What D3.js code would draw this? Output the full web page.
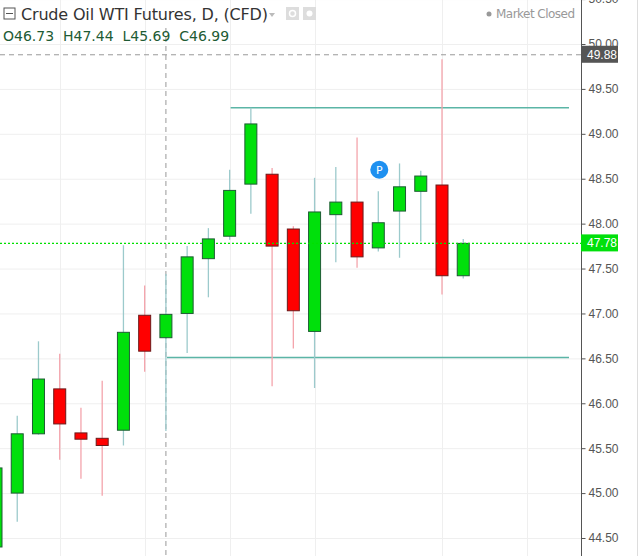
<!DOCTYPE html>
<html><head><meta charset="utf-8">
<script src="https://cdn.jsdelivr.net/npm/d3@7"></script>
<style>body{margin:0;background:#fff;}svg{display:block;font-family:"DejaVu Sans",Arial,sans-serif;}</style>
</head><body><svg id="c" width="639" height="556"></svg>
<script>
const openV  = [44.40,45.00,45.66,46.16,45.67,45.61,45.70,46.98,46.73,47.00,47.61,47.86,48.44,48.55,47.94,46.80,48.10,48.24,47.73,48.14,48.36,48.43,47.42];
const highV  = [45.30,45.86,46.69,46.55,45.95,46.25,47.76,47.31,47.44,47.75,47.95,48.60,49.29,48.62,47.97,48.51,48.63,48.96,48.36,48.67,48.59,49.83,47.83];
const lowV   = [44.20,44.68,45.65,45.37,45.16,44.97,45.53,46.35,45.69,46.56,47.18,47.82,48.11,46.19,46.61,46.17,47.57,47.51,47.69,47.62,47.80,47.21,47.39];
const closeV = [45.28,45.66,46.27,45.77,45.60,45.53,46.79,46.58,46.99,47.63,47.83,48.37,49.11,47.75,47.03,48.13,48.24,47.63,48.01,48.41,48.53,47.42,47.78];
const priceTicks = [44.5,45,45.5,46,46.5,47,47.5,48,48.5,49,49.5,50,50.5];
const gridIdx = [3,7,11,15,21,25];
const levels = [{p:49.29,from:11},{p:46.51,from:8}];
const lastPrice = 47.78, crossPrice = 49.88, crossIdx = 8, pIdx = 18, pPrice = 48.6;

const svg = d3.select("#c");
const y = d3.scaleLinear().domain([44.5,50]).range([538,44]);
const x = d3.scaleLinear().domain([0,26]).range([-4,548.2]);
const axisX = 581, bw = 12;

const g = svg.append("g");
g.selectAll(".hg").data(priceTicks).join("line").attr("x1",0).attr("x2",axisX)
 .attr("y1",d=>y(d)+.5).attr("y2",d=>y(d)+.5).attr("stroke","#efefef");
g.selectAll(".vg").data(gridIdx).join("line").attr("y1",0).attr("y2",556)
 .attr("x1",d=>Math.round(x(d))+.5).attr("x2",d=>Math.round(x(d))+.5).attr("stroke","#efefef");

g.append("line").attr("x1",0).attr("x2",axisX).attr("y1",y(crossPrice)).attr("y2",y(crossPrice))
 .attr("stroke","#999").attr("stroke-dasharray","5,4");
g.append("line").attr("x1",x(crossIdx)).attr("x2",x(crossIdx)).attr("y1",28).attr("y2",556)
 .attr("stroke","#999").attr("stroke-dasharray","5,4");

g.selectAll(".lv").data(levels).join("line").attr("x1",d=>x(d.from)+1).attr("x2",569)
 .attr("y1",d=>y(d.p)).attr("y2",d=>y(d.p)).attr("stroke","#5bb5a6").attr("stroke-width",1.5);

const idx = d3.range(openV.length);
g.selectAll(".wk").data(idx).join("line")
 .attr("x1",i=>x(i)).attr("x2",i=>x(i)).attr("y1",i=>y(highV[i])).attr("y2",i=>y(lowV[i]))
 .attr("stroke",i=>closeV[i]>=openV[i]?"#9ccacc":"#f4a4ac").attr("stroke-width",1.3);
g.selectAll(".bd").data(idx).join("rect")
 .attr("x",i=>x(i)-bw/2).attr("width",bw)
 .attr("y",i=>y(Math.max(openV[i],closeV[i])))
 .attr("height",i=>Math.max(2,Math.abs(y(openV[i])-y(closeV[i]))))
 .attr("fill",i=>closeV[i]>=openV[i]?"#00e00b":"#ff0000")
 .attr("stroke",i=>closeV[i]>=openV[i]?"#1e5b34":"#6b1a1a").attr("stroke-width",1);

g.append("line").attr("x1",0).attr("x2",axisX).attr("y1",y(lastPrice)).attr("y2",y(lastPrice))
 .attr("stroke","#00e000").attr("stroke-width",1.2).attr("stroke-dasharray","2,2");

g.append("circle").attr("cx",x(pIdx)+1).attr("cy",y(pPrice)).attr("r",9).attr("fill","#1e90f0");
g.append("text").attr("x",x(pIdx)+1).attr("y",y(pPrice)+4).attr("text-anchor","middle")
 .attr("fill","#fff").attr("font-size",11).text("P");

svg.append("rect").attr("x",axisX).attr("y",0).attr("width",639-axisX).attr("height",556).attr("fill","#fff");
svg.append("line").attr("x1",637.5).attr("x2",637.5).attr("y1",0).attr("y2",556).attr("stroke","#ddd");
const ax = svg.append("g").attr("transform",`translate(${axisX+.5},0)`)
 .call(d3.axisRight(y).tickValues(priceTicks).tickFormat(d3.format(".2f")).tickSize(4).tickPadding(3));
ax.select(".domain").attr("stroke","#555").attr("d","M0,0V556");
ax.selectAll(".tick line").attr("stroke","#555");
ax.selectAll("text").attr("fill","#555").attr("font-size",12).attr("font-family","Liberation Sans, Arial");

function tag(p,bg){
  const t=svg.append("g").attr("transform",`translate(${axisX},${y(p)})`);
  t.append("rect").attr("x",0).attr("y",-9).attr("width",37).attr("height",17).attr("fill",bg);
  t.append("text").attr("x",6).attr("y",4).attr("fill","#fff").attr("font-size",12)
   .attr("font-family","Liberation Sans, Arial").text(d3.format(".2f")(p));
}
tag(crossPrice,"#555");
tag(lastPrice,"#00e00b");

svg.append("rect").attr("x",4).attr("y",8).attr("width",11).attr("height",11).attr("fill","none").attr("stroke","#555");
svg.append("line").attr("x1",6).attr("x2",13).attr("y1",13.5).attr("y2",13.5).attr("stroke","#555");
svg.append("text").attr("x",21).attr("y",20).attr("font-size",16).attr("fill","#333").attr("textLength",247).text("Crude Oil WTI Futures, D, (CFD)");
svg.append("path").attr("d","M269,13 l6,0 l-3,4z").attr("fill","#bbb");
svg.append("rect").attr("x",286).attr("y",7).attr("width",13).attr("height",13).attr("fill","#ddd");
svg.append("rect").attr("x",303).attr("y",7).attr("width",13).attr("height",13).attr("fill","#ddd");
svg.append("circle").attr("cx",292.5).attr("cy",13.5).attr("r",3).attr("fill","none").attr("stroke","#fff").attr("stroke-width",1.5);
svg.append("circle").attr("cx",309.5).attr("cy",13.5).attr("r",3).attr("fill","#fff");
svg.append("circle").attr("cx",489).attr("cy",14).attr("r",2.5).attr("fill","#999");
svg.append("text").attr("x",496).attr("y",18).attr("font-size",12).attr("fill","#999").attr("textLength",79).text("Market Closed");
svg.append("text").attr("x",3).attr("y",41).attr("font-size",14).attr("fill","#1e5b34")
 .text("O46.73  H47.44  L45.69  C46.99").attr("xml:space","preserve");
</script></body></html>
